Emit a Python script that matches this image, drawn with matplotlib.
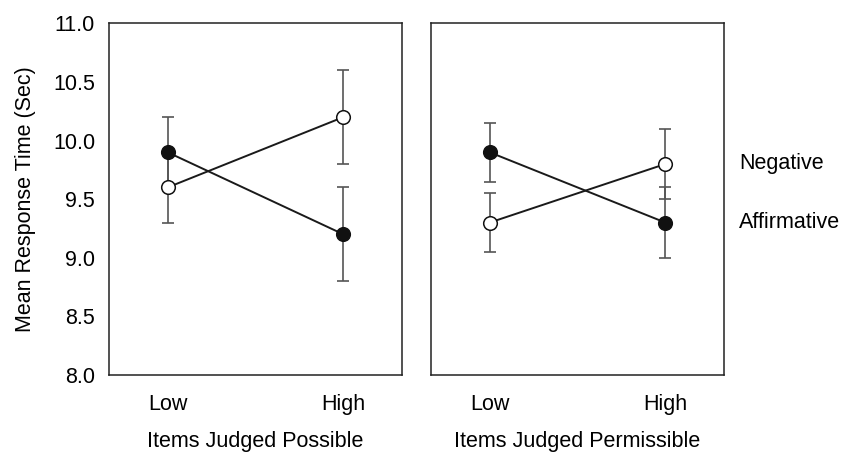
#!/usr/bin/env python
# -*- coding: utf-8 -*-

import numpy as np
import matplotlib
matplotlib.use("Agg")
import matplotlib.pyplot as plt

plt.rcParams["font.family"] = "Liberation Sans"

# data
levels = ["Low", "High"]
panel_titles = ["Items Judged Possible", "Items Judged Permissible"]
series_names = ["Negative", "Affirmative"]

negative_means = [[9.6, 10.2], [9.3, 9.8]]
negative_err = [[0.3, 0.4], [0.25, 0.3]]
affirmative_means = [[9.9, 9.2], [9.9, 9.3]]
affirmative_err = [[0.3, 0.4], [0.25, 0.3]]

yticks = [8.0, 8.5, 9.0, 9.5, 10.0, 10.5, 11.0]

W, H = 856, 453
fig = plt.figure(figsize=(W / 100, H / 100), dpi=100)

boxes = [(109, 23.3, 293, 351.7), (431, 23.3, 293, 351.7)]
axes = []
for (x0, y0, w, h) in boxes:
    ax = fig.add_axes([x0 / W, (H - y0 - h) / H, w / W, h / H])
    axes.append(ax)

fs = 15.5
x = np.arange(len(levels))

for i, ax in enumerate(axes):
    for means, err, face in [(negative_means, negative_err, "white"),
                             (affirmative_means, affirmative_err, "#111111")]:
        # capsize is half the cap width in matplotlib
        ax.errorbar(x, means[i], yerr=err[i], fmt="none", ecolor="#555555",
                    elinewidth=1.2, capsize=4.4, capthick=1.2, zorder=1)
        ax.plot(x, means[i], "-", color="#1a1a1a", lw=1.4, zorder=2)
        ax.plot(x, means[i], "o", ms=9.8, mfc=face, mec="#111111",
                mew=1.1, zorder=3)

    ax.set_xlim(-1 / 3, 4 / 3)
    ax.set_ylim(8.0, 11.0)
    ax.set_xticks(x)
    ax.set_xticklabels(levels, fontsize=fs)
    ax.set_yticks(yticks)
    ax.tick_params(length=0, pad=13)
    ax.tick_params(axis="x", pad=14)
    ax.set_xlabel(panel_titles[i], fontsize=fs, labelpad=11)
    for s in ax.spines.values():
        s.set_linewidth(1.1)
        s.set_color("#222222")

axes[0].set_yticklabels(["%.1f" % t for t in yticks], fontsize=fs)
axes[0].tick_params(axis="y", pad=10)
axes[0].set_ylabel("Mean Response Time (Sec)", fontsize=fs, labelpad=12)
axes[1].set_yticklabels([])

# series labels next to the right-hand points
for name, means in [("Negative", negative_means), ("Affirmative", affirmative_means)]:
    axes[1].annotate(name, xy=(1.0, means[1][1]),
                     xycoords=("axes fraction", "data"),
                     xytext=(11, 0), textcoords="offset points",
                     va="center", ha="left", fontsize=fs)

fig.savefig("out.png", dpi=100)
